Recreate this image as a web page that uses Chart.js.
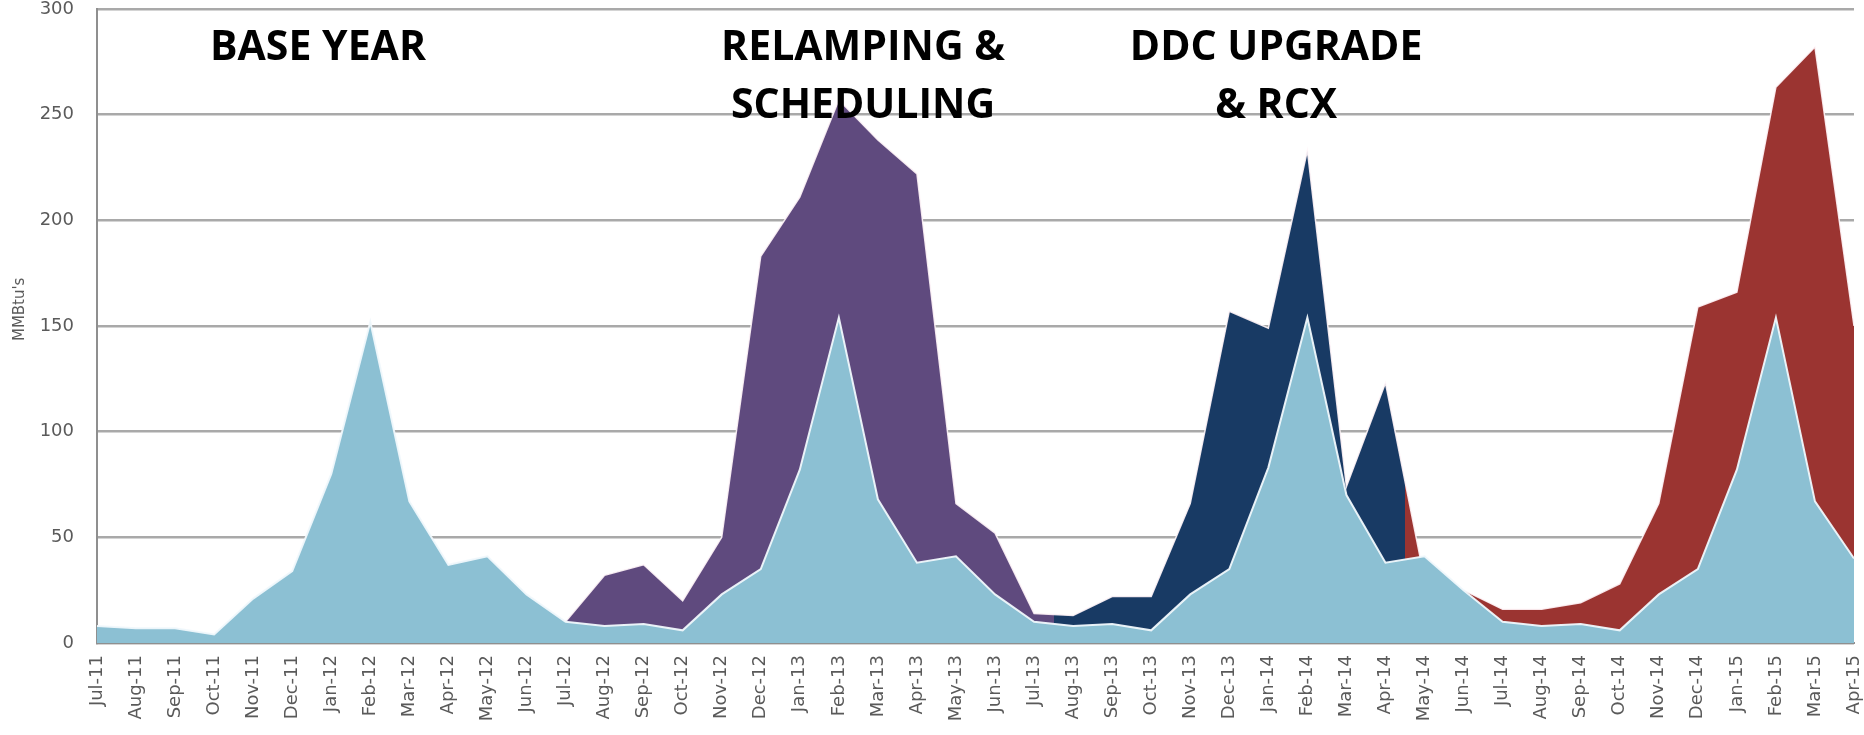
<!DOCTYPE html>
<html>
<head>
<meta charset="utf-8">
<script src="https://cdn.jsdelivr.net/npm/chart.js@4/dist/chart.umd.min.js"></script>
<style>
  html, body { margin: 0; padding: 0; background: #ffffff; }
  #wrap { width: 1864px; height: 735px; position: relative; }
</style>
</head>
<body>
<div id="wrap"><canvas id="c"></canvas></div>
<script>
// ---- data ----
const months = ["Jul-11","Aug-11","Sep-11","Oct-11","Nov-11","Dec-11","Jan-12","Feb-12","Mar-12","Apr-12","May-12","Jun-12",
  "Jul-12","Aug-12","Sep-12","Oct-12","Nov-12","Dec-12","Jan-13","Feb-13","Mar-13","Apr-13","May-13","Jun-13",
  "Jul-13","Aug-13","Sep-13","Oct-13","Nov-13","Dec-13","Jan-14","Feb-14","Mar-14","Apr-14","May-14","Jun-14",
  "Jul-14","Aug-14","Sep-14","Oct-14","Nov-14","Dec-14","Jan-15","Feb-15","Mar-15","Apr-15"];

// Base-year consumption (light blue), repeated every year
const baseValues = [8,7,7,4,21,34,80,152,67,37,41,23,
  10,8,9,6,23,35,82,154,68,38,41,23,
  10,8,9,6,23,35,83,154,70,38,41,25,
  10,8,9,6,23,35,82,154,67,40];

// Actual consumption after each measure
const relampingValues = [10,32,37,20,50,183,211,257,238,222,66,52,14]; // Jul-12 .. Jul-13
const ddcValues = [13,22,22,66,157,149,233,74,123];                    // Aug-13 .. Apr-14
const latestValues = [30,25,16,16,19,28,66,159,166,263,282,150];         // May-14 .. Apr-15

const yTicks = [0,50,100,150,200,250,300];

const annotations = [
  { lines: ["BASE YEAR"], at: 5.66 },
  { lines: ["RELAMPING &", "SCHEDULING"], at: 19.62 },
  { lines: ["DDC UPGRADE", "& RCX"], at: 30.2 }
];

// ---- styling ----
const colBase = "#8cc0d3";
const colPurple = "#5f4a7e";
const colNavy = "#183a64";
const colRed = "#9b3431";
const periodBreaks = [24.5, 33.5];

const actualValues = new Array(12).fill(null).concat(relampingValues, ddcValues, latestValues);

function periodFill(ctx) {
  const chart = ctx.chart;
  const area = chart.chartArea;
  if (!area || !chart.scales.x) return colPurple;
  const xs = chart.scales.x;
  const w = area.right - area.left;
  const p1 = Math.min(1, Math.max(0, (xs.getPixelForValue(periodBreaks[0]) - area.left) / w));
  const p2 = Math.min(1, Math.max(0, (xs.getPixelForValue(periodBreaks[1]) - area.left) / w));
  const g = chart.ctx.createLinearGradient(area.left, 0, area.right, 0);
  g.addColorStop(0, colPurple);
  g.addColorStop(p1, colPurple);
  g.addColorStop(p1, colNavy);
  g.addColorStop(p2, colNavy);
  g.addColorStop(p2, colRed);
  g.addColorStop(1, colRed);
  return g;
}

const textPlugin = {
  id: "phaseText",
  afterDatasetsDraw(chart) {
    const c = chart.ctx;
    const xs = chart.scales.x, ys = chart.scales.y;
    c.save();
    c.fillStyle = "#000000";
    c.font = "bold 41px 'Open Sans'";
    c.textAlign = "center";
    c.textBaseline = "alphabetic";
    const lineVals = [276, 248.5];
    annotations.forEach(a => {
      a.lines.forEach((t, i) => {
        c.fillText(t, xs.getPixelForValue(a.at), ys.getPixelForValue(lineVals[i]));
      });
    });
    c.restore();
  }
};

new Chart(document.getElementById("c"), {
  type: "line",
  data: {
    labels: months,
    datasets: [
      {
        label: "Base year",
        data: baseValues,
        fill: "origin",
        backgroundColor: colBase,
        borderColor: "rgba(240,248,252,0.95)",
        borderWidth: 2,
        pointRadius: 0,
        tension: 0,
        order: 0
      },
      {
        label: "Actual",
        data: actualValues,
        fill: "origin",
        backgroundColor: periodFill,
        borderColor: "rgba(255,245,248,0.9)",
        borderWidth: 1.5,
        pointRadius: 0,
        tension: 0,
        spanGaps: false,
        order: 1
      }
    ]
  },
  options: {
    responsive: true,
    maintainAspectRatio: false,
    animation: false,
    layout: { padding: { top: 0, right: 0, left: 0, bottom: 0 } },
    plugins: {
      legend: { display: false },
      tooltip: { enabled: false },
      title: { display: false }
    },
    scales: {
      x: {
        offset: false,
        grid: { display: false, drawTicks: false },
        border: { display: true, color: "#8f8f8f", width: 2 },
        ticks: {
          autoSkip: false,
          minRotation: 90,
          maxRotation: 90,
          padding: 12,
          color: "#5a5a5a",
          font: { family: "'DejaVu Sans'", size: 18 }
        },
        afterFit(scale) {
          scale.height = 92;
          scale.paddingRight = 10;
          scale.paddingLeft = 0;
        }
      },
      y: {
        min: 0,
        max: 300,
        afterBuildTicks(scale) { scale.ticks = yTicks.map(v => ({ value: v })); },
        grid: { color: "#a9a9a9", lineWidth: 2.5, drawTicks: false },
        border: { display: true, color: "#8f8f8f", width: 2 },
        ticks: { padding: 23, color: "#5a5a5a", font: { family: "'DejaVu Sans'", size: 18 } },
        title: {
          display: true,
          text: "       MMBtu's",
          color: "#5a5a5a",
          font: { family: "'DejaVu Sans'", size: 15 },
          padding: { top: 11, bottom: 0 }
        },
        afterFit(scale) {
          scale.width = 97;
          scale.paddingTop = 9;
          scale.paddingBottom = 0;
        }
      }
    }
  },
  plugins: [textPlugin]
});
</script>
</body>
</html>
